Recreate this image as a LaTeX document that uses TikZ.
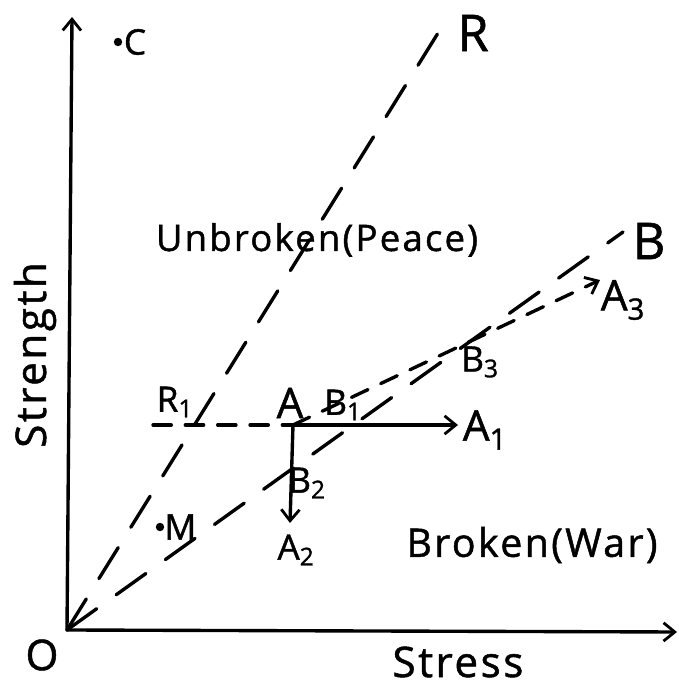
\documentclass[tikz,border=0pt]{standalone}
\usepackage{fontspec}
\setmainfont{Open Sans}[LetterSpace=6, FakeBold=1.2]
\usetikzlibrary{arrows.meta}

\begin{document}
\begin{tikzpicture}[x=0.25mm, y=0.25mm, line width=2.4pt, line cap=round,
    longdash/.style={dash pattern=on 26pt off 17pt},
    shortdash/.style={dash pattern=on 13pt off 10pt},
    tip/.style={-{Straight Barb[length=8pt,width=13pt,line width=2pt]}},
    lbl/.style={inner sep=0pt, font=\fontsize{25}{30}\selectfont},
    biglbl/.style={inner sep=0pt, font=\fontsize{36}{40}\selectfont},
    midlbl/.style={inner sep=0pt, font=\fontsize{30}{34}\selectfont},
    pt/.style={circle, fill, inner sep=0pt, minimum size=6pt}]
    \useasboundingbox (0,0) rectangle (679,687);

    % Points
    \coordinate (O) at (67,57);
    \coordinate (ytop) at (72,670);
    \coordinate (xend) at (677,55);
    \coordinate (Rend) at (448,670);
    \coordinate (Bend) at (623,455);
    \coordinate (A) at (293,262);
    \coordinate (hstart) at (153,262);
    \coordinate (A1) at (458,262);
    \coordinate (A2) at (290,164);
    \coordinate (A3) at (600,407);

    % Axes
    \draw[tip] (O) -- (ytop);
    \draw[tip] (O) -- (xend);
    \node[midlbl] (olbl) at (42,32) {O};
    \node[lbl, font=\fontsize{30}{34}\selectfont] (stress) at (458,25) {Stress};
    \node[lbl, font=\fontsize{30}{34}\selectfont, rotate=90] (strength) at (35,332) {Strength};

    % Boundary lines
    \draw[longdash] (O) -- (Rend);
    \draw[longdash] (O) -- (Bend);
    \node[biglbl] (rlbl) at (473,654) {R};
    \node[biglbl] (blbl) at (649,446) {B};

    % Regions
    \node[lbl, font=\fontsize{26}{30}\selectfont] (peace) at (317,447) {Unbroken(Peace)};
    \node[lbl, font=\fontsize{28}{32}\selectfont] (war) at (532,142) {Broken(War)};

    % Moves from A
    \draw[shortdash] (hstart) -- (A);
    \draw[tip] (A) -- (A1);
    \draw[tip] (A) -- (A2);
    \draw[tip, shortdash] (A) -- (A3);

    \node[midlbl] (albl) at (290,284) {A};
    \node[midlbl] (a1lbl) at (485,257) {A\textsubscript{1}};
    \node[lbl] (a2lbl) at (296,137) {A\textsubscript{2}};
    \node[midlbl] (a3lbl) at (623,387) {A\textsubscript{3}};
    \node[lbl] (r1lbl) at (175,285) {R\textsubscript{1}};
    \node[lbl] (b1lbl) at (343,282) {B\textsubscript{1}};
    \node[lbl] (b2lbl) at (307,204) {B\textsubscript{2}};
    \node[lbl] (b3lbl) at (480,325) {B\textsubscript{3}};

    % Other states
    \node[pt] (M) at (160,160) {};
    \node[lbl, right=2pt] (mlbl) at (M) {M};
    \node[pt] (C) at (118,645) {};
    \node[lbl, right=3pt] (clbl) at (C) {C};
\end{tikzpicture}
\end{document}
